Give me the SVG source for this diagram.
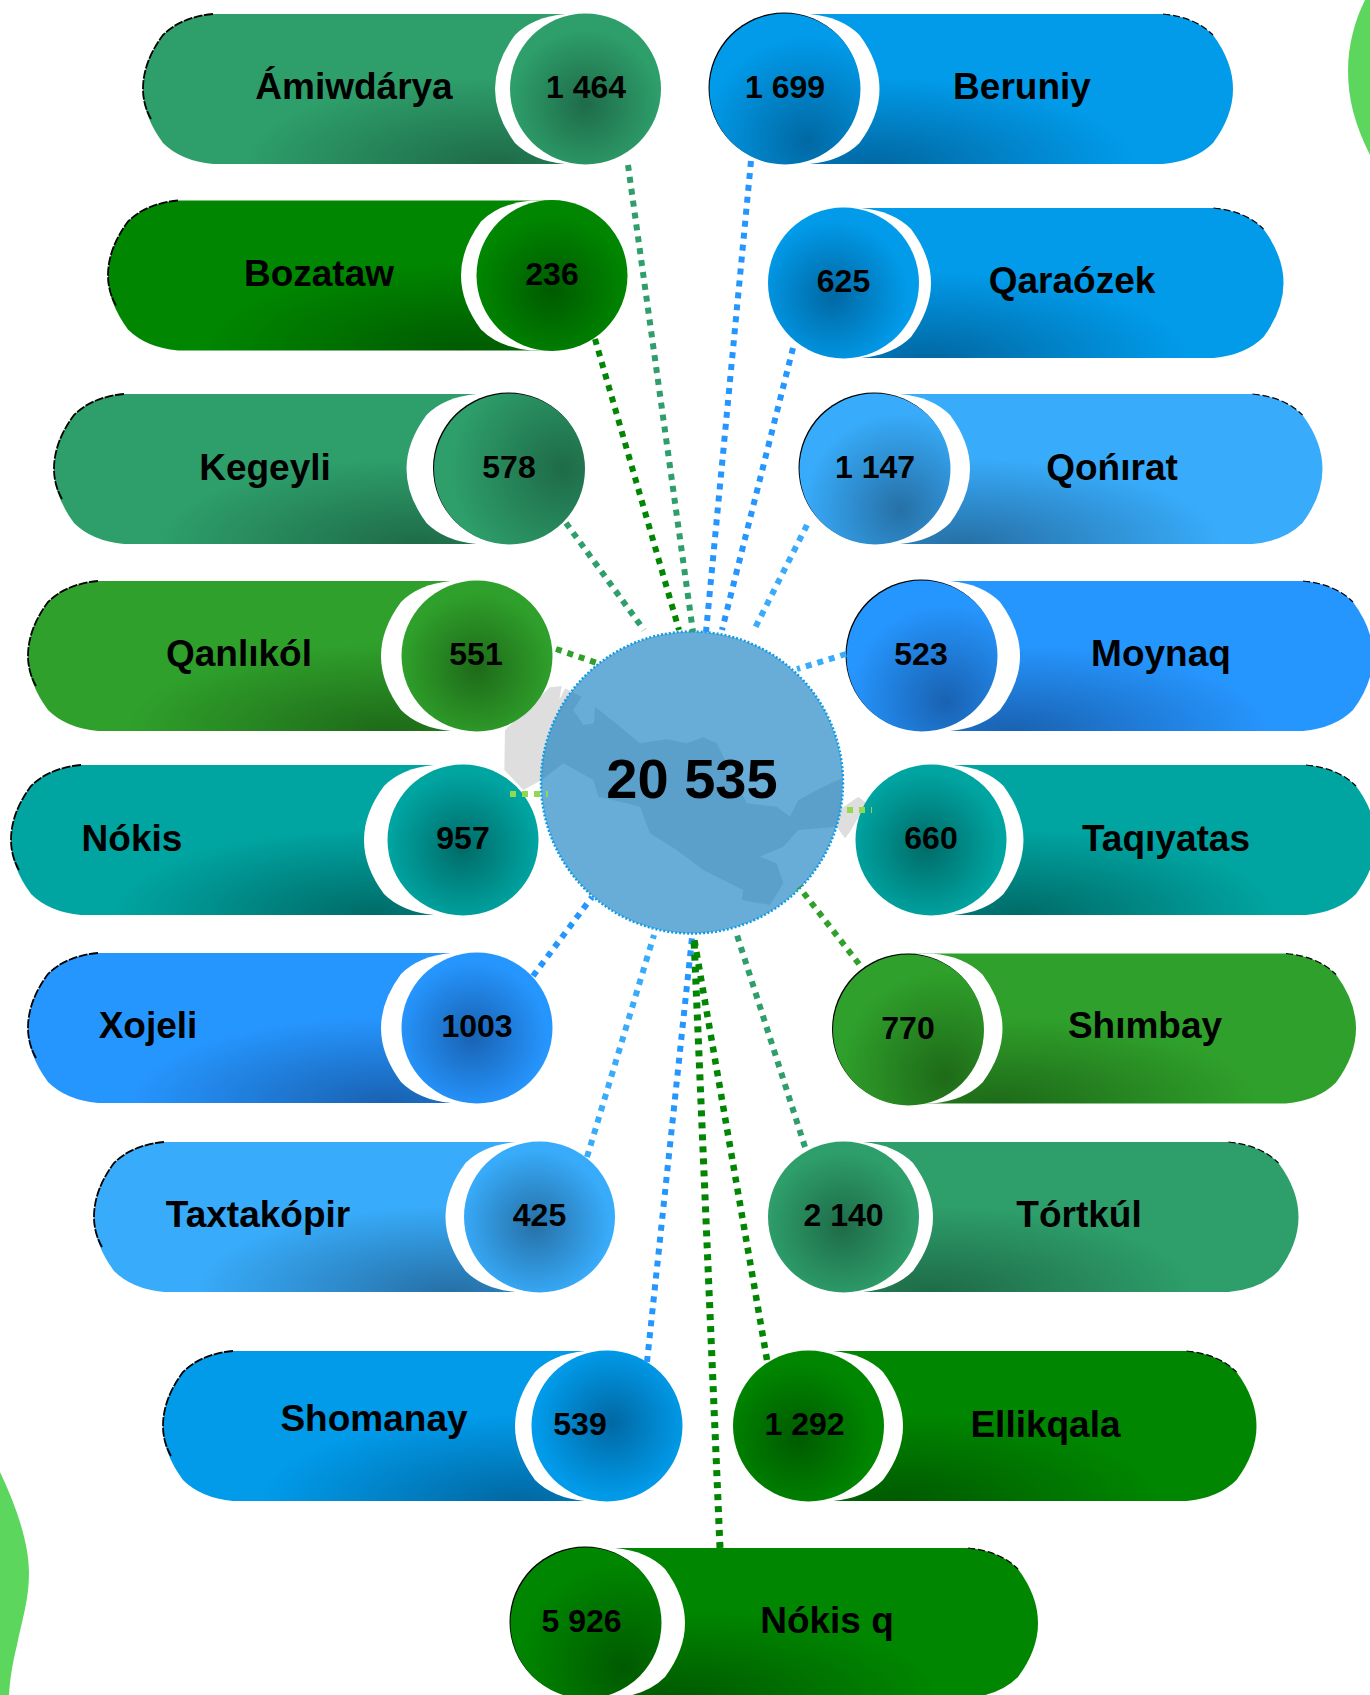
<svg xmlns="http://www.w3.org/2000/svg" xmlns:xlink="http://www.w3.org/1999/xlink" width="1370" height="1695" viewBox="0 0 1370 1695">
<style>
text{font-family:"Liberation Sans",Arial,sans-serif;font-weight:700;fill:#000;text-anchor:middle}
.lb{font-size:37px}.nm{font-size:32px}.tt{font-size:56px}
.ed{fill:none;stroke:#000;stroke-width:1.8;stroke-dasharray:9 1.5}
.ed2{fill:none;stroke:#000;stroke-width:1.2;stroke-dasharray:7 3}
.cn{fill:none;stroke-width:6;stroke-dasharray:6 6}
.blk{fill:#000}
.wh{fill:#fff}
</style>
<defs>
<path id="w" d="M70-75Q38-72 20-54Q0-27 0 0Q0 27 20 54Q38 72 70 75H100V-75Z"/>
<radialGradient id="pS" cx=".8" cy="1" r=".58"><stop offset="0" stop-color="#1e6b48"/><stop offset="1" stop-color="#2e9f6b"/></radialGradient>
<radialGradient id="pG" cx=".8" cy="1" r=".58"><stop offset="0" stop-color="#005a00"/><stop offset="1" stop-color="#008600"/></radialGradient>
<radialGradient id="pB" cx=".8" cy="1" r=".58"><stop offset="0" stop-color="#0168a3"/><stop offset="1" stop-color="#019bea"/></radialGradient>
<radialGradient id="pL" cx=".8" cy="1" r=".58"><stop offset="0" stop-color="#2670a6"/><stop offset="1" stop-color="#38acfb"/></radialGradient>
<radialGradient id="pD" cx=".8" cy="1" r=".58"><stop offset="0" stop-color="#1962b2"/><stop offset="1" stop-color="#2696ff"/></radialGradient>
<radialGradient id="pT" cx=".8" cy="1" r=".58"><stop offset="0" stop-color="#006b68"/><stop offset="1" stop-color="#00a5a2"/></radialGradient>
<radialGradient id="pF" cx=".8" cy="1" r=".58"><stop offset="0" stop-color="#1e6a18"/><stop offset="1" stop-color="#2fa02b"/></radialGradient>
<radialGradient id="c1" xlink:href="#pS" cx=".5" cy=".6" r=".5"/>
<radialGradient id="c2" xlink:href="#pG" cx=".5" cy=".6" r=".5"/>
<radialGradient id="c3" xlink:href="#pS" cx=".85" cy=".5" r=".75"/>
<radialGradient id="c4" xlink:href="#pF" cx=".5" cy=".58" r=".5"/>
<radialGradient id="c5" xlink:href="#pT" cx=".5" cy=".55" r=".5"/>
<radialGradient id="c6" xlink:href="#pD" cx=".47" cy=".55" r=".5"/>
<radialGradient id="c7" xlink:href="#pL" cx=".47" cy=".55" r=".5"/>
<radialGradient id="c8" xlink:href="#pB" cx=".53" cy=".48" r=".5"/>
<radialGradient id="c9" xlink:href="#pB" cx=".65" cy=".85" r=".7"/>
<radialGradient id="c10" xlink:href="#pB" cx=".43" cy=".58" r=".5"/>
<radialGradient id="c11" xlink:href="#pL" cx=".67" cy=".77" r=".65"/>
<radialGradient id="c12" xlink:href="#pD" cx=".66" cy=".8" r=".65"/>
<radialGradient id="c13" xlink:href="#pT" cx=".47" cy=".54" r=".5"/>
<radialGradient id="c14" xlink:href="#pF" cx=".74" cy=".81" r=".7"/>
<radialGradient id="c15" xlink:href="#pS" cx=".49" cy=".56" r=".5"/>
<radialGradient id="c16" xlink:href="#pG" cx=".43" cy=".58" r=".5"/>
<radialGradient id="c17" xlink:href="#pG" cx=".75" cy=".8" r=".7"/>
</defs>
<rect width="1370" height="1695" fill="#fff"/>
<g id="blobs" fill="#5dd65d">
<path d="M1370 155C1355 125 1348 100 1348 70C1348 45 1355 20 1365 0H1370Z"/>
<path d="M0 1472C18 1510 29 1545 29 1573C29 1600 22 1620 17 1645C12 1665 10 1680 9 1695H0Z"/>
</g>
<g id="map" transform="translate(470,600) scale(.33333)">
<path fill="#dedede" d="M275 258L240 262L105 390L103 510L160 570L215 540L280 490L370 540L385 590L470 610L510 620L540 700L620 750L700 810L820 870L815 900L900 915L940 850L920 790L870 770L940 740L985 690L1100 680L1125 715L1140 695L1190 610L1165 590L1115 625L1115 535L1060 560L985 600L960 650L920 620L830 610L790 530L740 430L700 412L650 430L590 418L510 430L450 380L375 320L372 370L340 375L310 330L335 290L285 265L268 300Z"/>
</g>
<g id="center">
<circle cx="692" cy="782.5" r="151" fill="#0277bd" fill-opacity=".6" stroke="#0f9be5" stroke-width="2.5" stroke-dasharray="2 2"/>
<text class="tt" x="692" y="798">20 535</text>
</g>
<g id="n-amiwdarya">
<g transform="translate(143,89)"><path fill="url(#pS)" d="M70-75H442V75H70Q38 72 20 54Q0 27 0 0Q0-27 20-54Q38-72 70-75Z"/><path class="ed" d="M70-75Q38-72 20-54Q0-27 0 0Q0 16 8 30"/></g>
<use class="wh" xlink:href="#w" transform="translate(495,89)"/>
<circle cx="585.5" cy="89" r="75.5" fill="url(#c1)"/>
<text class="lb" x="354" y="99">Ámiwdárya</text><text class="nm" x="586" y="98">1 464</text>
</g>
<g id="n-bozataw">
<g transform="translate(108,275.5)"><path fill="url(#pG)" d="M70-75H444V75H70Q38 72 20 54Q0 27 0 0Q0-27 20-54Q38-72 70-75Z"/><path class="ed" d="M70-75Q38-72 20-54Q0-27 0 0Q0 16 8 30"/></g>
<use class="wh" xlink:href="#w" transform="translate(461,275.5)"/>
<circle cx="552" cy="275.5" r="75.5" fill="url(#c2)"/>
<text class="lb" x="319" y="286">Bozataw</text><text class="nm" x="552" y="285">236</text>
</g>
<g id="n-kegeyli">
<g transform="translate(54,469)"><path fill="url(#pS)" d="M70-75H456V75H70Q38 72 20 54Q0 27 0 0Q0-27 20-54Q38-72 70-75Z"/><path class="ed" d="M70-75Q38-72 20-54Q0-27 0 0Q0 16 8 30"/></g>
<use class="wh" xlink:href="#w" transform="translate(406.5,469)"/>
<circle class="blk" cx="508.5" cy="468" r="75.5"/>
<circle cx="509.5" cy="469" r="75.5" fill="url(#c3)"/>
<text class="lb" x="265" y="480">Kegeyli</text><text class="nm" x="509" y="478">578</text>
</g>
<g id="n-qanlikol">
<g transform="translate(28,656)"><path fill="url(#pF)" d="M70-75H449V75H70Q38 72 20 54Q0 27 0 0Q0-27 20-54Q38-72 70-75Z"/><path class="ed" d="M70-75Q38-72 20-54Q0-27 0 0Q0 16 8 30"/></g>
<use class="wh" xlink:href="#w" transform="translate(381,656)"/>
<circle cx="477" cy="656" r="75.5" fill="url(#c4)"/>
<text class="lb" x="239" y="666">Qanlıkól</text><text class="nm" x="476" y="665">551</text>
</g>
<g id="n-nokis">
<g transform="translate(11,840)"><path fill="url(#pT)" d="M70-75H452V75H70Q38 72 20 54Q0 27 0 0Q0-27 20-54Q38-72 70-75Z"/><path class="ed" d="M70-75Q38-72 20-54Q0-27 0 0Q0 16 8 30"/></g>
<use class="wh" xlink:href="#w" transform="translate(364,840)"/>
<circle cx="463" cy="840" r="75.5" fill="url(#c5)"/>
<text class="lb" x="132" y="851">Nókis</text><text class="nm" x="463" y="849">957</text>
</g>
<g id="n-xojeli">
<g transform="translate(28,1028)"><path fill="url(#pD)" d="M70-75H449V75H70Q38 72 20 54Q0 27 0 0Q0-27 20-54Q38-72 70-75Z"/><path class="ed" d="M70-75Q38-72 20-54Q0-27 0 0Q0 16 8 30"/></g>
<use class="wh" xlink:href="#w" transform="translate(381,1028)"/>
<circle cx="477" cy="1028" r="75.5" fill="url(#c6)"/>
<text class="lb" x="148" y="1038">Xojeli</text><text class="nm" x="477" y="1037">1003</text>
</g>
<g id="n-taxtakopir">
<g transform="translate(94,1217)"><path fill="url(#pL)" d="M70-75H445V75H70Q38 72 20 54Q0 27 0 0Q0-27 20-54Q38-72 70-75Z"/><path class="ed" d="M70-75Q38-72 20-54Q0-27 0 0Q0 16 8 30"/></g>
<use class="wh" xlink:href="#w" transform="translate(445.5,1217)"/>
<circle cx="539.5" cy="1217" r="75.5" fill="url(#c7)"/>
<text class="lb" x="258" y="1227">Taxtakópir</text><text class="nm" x="539.5" y="1226">425</text>
</g>
<g id="n-shomanay">
<g transform="translate(163,1426)"><path fill="url(#pB)" d="M70-75H444V75H70Q38 72 20 54Q0 27 0 0Q0-27 20-54Q38-72 70-75Z"/><path class="ed" d="M70-75Q38-72 20-54Q0-27 0 0Q0 16 8 30"/></g>
<use class="wh" xlink:href="#w" transform="translate(515,1426)"/>
<circle cx="607" cy="1426" r="75.5" fill="url(#c8)"/>
<text class="lb" x="374" y="1431">Shomanay</text><text class="nm" x="580" y="1435">539</text>
</g>
<g id="n-beruniy">
<g transform="translate(1233,89) scale(-1,1)"><path fill="url(#pB)" d="M70-75H448V75H70Q38 72 20 54Q0 27 0 0Q0-27 20-54Q38-72 70-75Z"/><path class="ed2" d="M70-75Q38-72 20-54"/></g>
<use class="wh" xlink:href="#w" transform="translate(879.5,89) scale(-1,1)"/>
<circle class="blk" cx="784" cy="88" r="75.5"/>
<circle cx="785" cy="89" r="75.5" fill="url(#c9)"/>
<text class="lb" x="1022" y="99">Beruniy</text><text class="nm" x="785" y="98">1 699</text>
</g>
<g id="n-qaraozek">
<g transform="translate(1283.5,283) scale(-1,1)"><path fill="url(#pB)" d="M70-75H440V75H70Q38 72 20 54Q0 27 0 0Q0-27 20-54Q38-72 70-75Z"/><path class="ed2" d="M70-75Q38-72 20-54"/></g>
<use class="wh" xlink:href="#w" transform="translate(931,283) scale(-1,1)"/>
<circle cx="843.5" cy="283" r="75.5" fill="url(#c10)"/>
<text class="lb" x="1072" y="293">Qaraózek</text><text class="nm" x="843.5" y="292">625</text>
</g>
<g id="n-qonirat">
<g transform="translate(1322.5,469) scale(-1,1)"><path fill="url(#pL)" d="M70-75H448V75H70Q38 72 20 54Q0 27 0 0Q0-27 20-54Q38-72 70-75Z"/><path class="ed2" d="M70-75Q38-72 20-54"/></g>
<use class="wh" xlink:href="#w" transform="translate(970,469) scale(-1,1)"/>
<circle class="blk" cx="874" cy="468" r="75.5"/>
<circle cx="875" cy="469" r="75.5" fill="url(#c11)"/>
<text class="lb" x="1112" y="480">Qońırat</text><text class="nm" x="875" y="478">1 147</text>
</g>
<g id="n-moynaq">
<g transform="translate(1373,656) scale(-1,1)"><path fill="url(#pD)" d="M70-75H451V75H70Q38 72 20 54Q0 27 0 0Q0-27 20-54Q38-72 70-75Z"/><path class="ed2" d="M70-75Q38-72 20-54"/></g>
<use class="wh" xlink:href="#w" transform="translate(1020,656) scale(-1,1)"/>
<circle class="blk" cx="921" cy="655" r="75.5"/>
<circle cx="922" cy="656" r="75.5" fill="url(#c12)"/>
<text class="lb" x="1161" y="666">Moynaq</text><text class="nm" x="921" y="665">523</text>
</g>
<g id="n-taqiyatas">
<g transform="translate(1376,840) scale(-1,1)"><path fill="url(#pT)" d="M70-75H445V75H70Q38 72 20 54Q0 27 0 0Q0-27 20-54Q38-72 70-75Z"/><path class="ed2" d="M70-75Q38-72 20-54"/></g>
<use class="wh" xlink:href="#w" transform="translate(1023.5,840) scale(-1,1)"/>
<circle cx="931" cy="840" r="75.5" fill="url(#c13)"/>
<text class="lb" x="1166" y="851">Taqıyatas</text><text class="nm" x="931" y="849">660</text>
</g>
<g id="n-shimbay">
<g transform="translate(1356,1028.5) scale(-1,1)"><path fill="url(#pF)" d="M70-75H448V75H70Q38 72 20 54Q0 27 0 0Q0-27 20-54Q38-72 70-75Z"/><path class="ed2" d="M70-75Q38-72 20-54"/></g>
<use class="wh" xlink:href="#w" transform="translate(1002.5,1028.5) scale(-1,1)"/>
<circle class="blk" cx="907.5" cy="1029" r="75.5"/>
<circle cx="908.5" cy="1030" r="75.5" fill="url(#c14)"/>
<text class="lb" x="1145" y="1038">Shımbay</text><text class="nm" x="908" y="1039">770</text>
</g>
<g id="n-tortkul">
<g transform="translate(1298.5,1217) scale(-1,1)"><path fill="url(#pS)" d="M70-75H455V75H70Q38 72 20 54Q0 27 0 0Q0-27 20-54Q38-72 70-75Z"/><path class="ed2" d="M70-75Q38-72 20-54"/></g>
<use class="wh" xlink:href="#w" transform="translate(933,1217) scale(-1,1)"/>
<circle cx="843.5" cy="1217" r="75.5" fill="url(#c15)"/>
<text class="lb" x="1079" y="1227">Tórtkúl</text><text class="nm" x="843.5" y="1226">2 140</text>
</g>
<g id="n-ellikqala">
<g transform="translate(1256.5,1426) scale(-1,1)"><path fill="url(#pG)" d="M70-75H448V75H70Q38 72 20 54Q0 27 0 0Q0-27 20-54Q38-72 70-75Z"/><path class="ed2" d="M70-75Q38-72 20-54"/></g>
<use class="wh" xlink:href="#w" transform="translate(903,1426) scale(-1,1)"/>
<circle cx="808.5" cy="1426" r="75.5" fill="url(#c16)"/>
<text class="lb" x="1045.5" y="1437">Ellikqala</text><text class="nm" x="804.5" y="1435">1 292</text>
</g>
<g id="n-nokis-q">
<g transform="translate(1038,1623) scale(-1,1)"><path fill="url(#pG)" d="M70-75H452V75H70Q38 72 20 54Q0 27 0 0Q0-27 20-54Q38-72 70-75Z"/><path class="ed2" d="M70-75Q38-72 20-54"/></g>
<use class="wh" xlink:href="#w" transform="translate(685,1623) scale(-1,1)"/>
<circle class="blk" cx="585" cy="1622" r="75.5"/>
<circle cx="586" cy="1623" r="75.5" fill="url(#c17)"/>
<text class="lb" x="827" y="1633">Nókis q</text><text class="nm" x="581.5" y="1632">5 926</text>
</g>
<g id="connectors">
<path class="cn" stroke="#2e9f6b" d="M628 165L693 632"/>
<path class="cn" stroke="#008600" d="M595 339L679 630"/>
<path class="cn" stroke="#2e9f6b" d="M566 523L644 630"/>
<path class="cn" stroke="#2fa02b" d="M556 649L597 663"/>
<path class="cn" stroke="#92d850" d="M510 794L548 794"/>
<path class="cn" stroke="#2696ff" d="M533 976L592 897"/>
<path class="cn" stroke="#38acfb" d="M587 1157L654 935"/>
<path class="cn" stroke="#2696ff" d="M647 1362L692 938"/>
<path class="cn" stroke="#008600" style="stroke-width:7" d="M720 1548L694 938"/>
<path class="cn" stroke="#008600" style="stroke-width:6.5" d="M767 1360L694 938"/>
<path class="cn" stroke="#2e9f6b" d="M805 1147L736 932"/>
<path class="cn" stroke="#2fa02b" d="M859 964L799 887"/>
<path class="cn" stroke="#92d850" d="M847 810L872 810"/>
<path class="cn" stroke="#38acfb" d="M846 654L797 669"/>
<path class="cn" stroke="#38acfb" d="M807 525L754 630"/>
<path class="cn" stroke="#2696ff" d="M793 348L722 630"/>
<path class="cn" stroke="#2696ff" d="M751 161L706 632"/>
</g>
</svg>
